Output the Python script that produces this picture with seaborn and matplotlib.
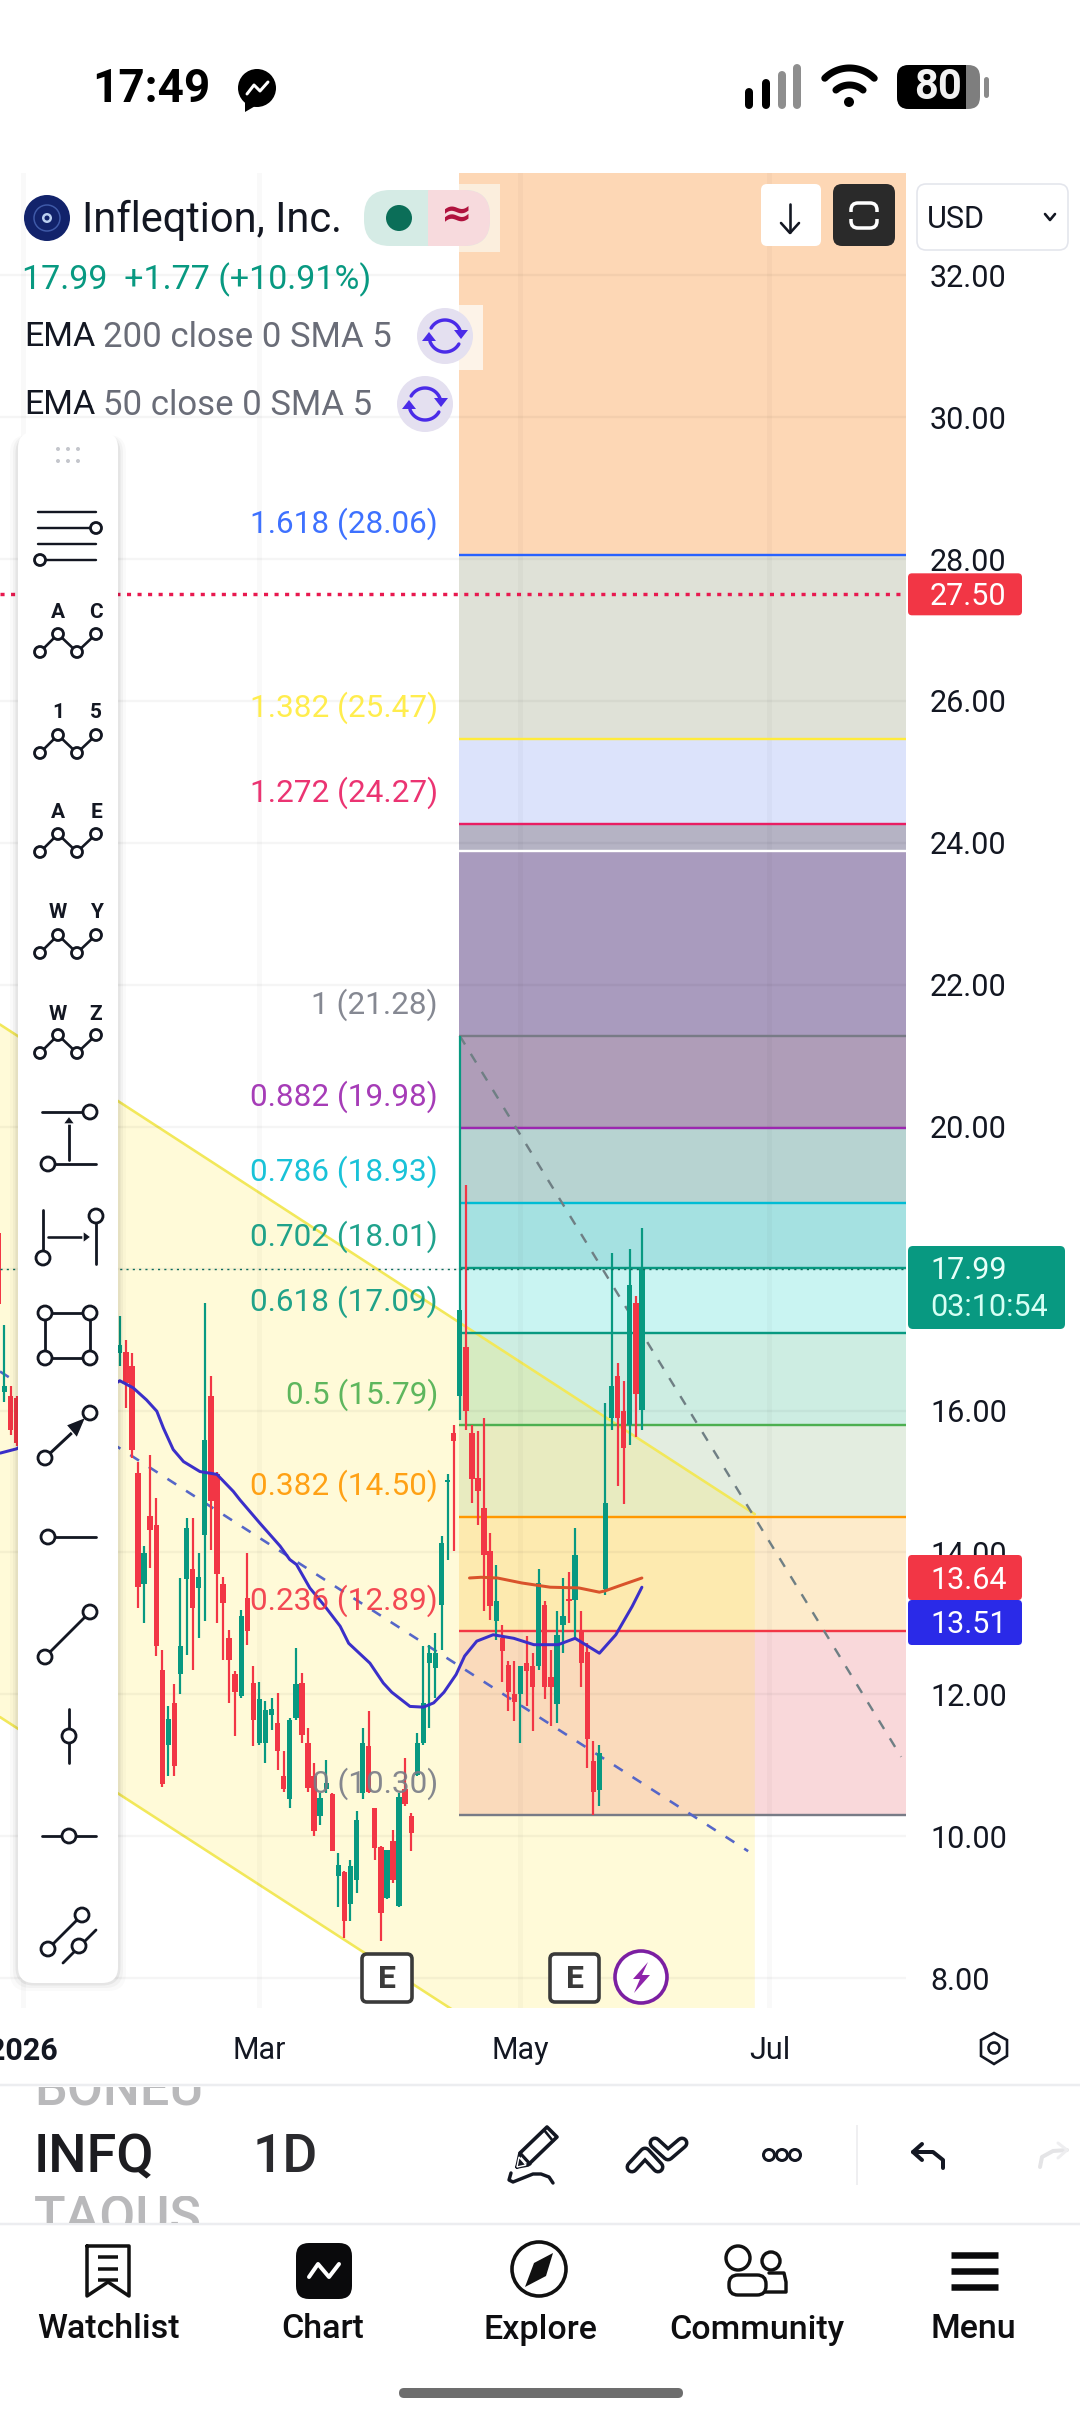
import matplotlib
matplotlib.use("Agg")
import matplotlib.pyplot as plt
from matplotlib.patches import Circle, FancyBboxPatch, Polygon, Rectangle
import numpy as np
import pandas as pd
import seaborn as sns

# ---- price data (daily candles, INFQ) ----
candle_day = [-23, -22, -21, -20, -3, -2, -1] + list(range(84))
candle_open = [18.5, 16.26, 16.2, 16.18, 16.81, 16.83, 16.63,
    15.12, 13.55, 14.51, 14.38, 12.35, 11.29, 11.88, 12.28, 13.62, 13.76, 13.50, 14.25,
    16.20, 15.10, 13.55, 12.79, 12.28, 11.97, 13.36, 12.16, 11.32, 11.32, 11.71, 11.59,
    10.85, 10.52, 11.67, 12.16, 11.32, 10.85, 10.28, 10.66, 10.59, 9.44, 9.49, 9.04,
    9.39, 10.61, 11.27, 10.40, 9.85, 9.13, 9.93, 9.02, 10.66, 10.28, 10.87, 11.32,
    12.44, 12.37, 13.26, 14.99, 15.69, 16.20, 16.90, 15.69, 15.05, 14.63, 14.02, 13.04,
    12.79, 12.42, 12.00, 12.00, 12.44, 12.40, 12.40, 13.26, 12.25, 11.86, 12.98, 13.33,
    13.33, 12.89, 12.60, 11.06, 10.65, 13.48, 15.90, 16.48, 15.99, 15.80, 17.52, 16.01]
candle_high = [18.6, 17.21, 16.34, 16.2, 17.33, 17.0, 16.81,
    15.28, 14.09, 15.38, 14.77, 12.63, 11.83, 12.14, 13.64, 14.49, 14.49, 13.99, 17.52,
    16.48, 15.14, 13.66, 12.91, 12.33, 13.19, 13.99, 12.40, 12.18, 11.90, 11.95, 12.02,
    11.20, 11.67, 12.65, 12.30, 11.53, 11.03, 10.61, 11.08, 10.61, 9.77, 9.51, 9.67,
    10.35, 11.53, 11.76, 10.40, 9.86, 9.81, 10.09, 10.61, 11.10, 10.33, 11.46, 12.68,
    12.70, 12.87, 14.23, 15.10, 15.80, 21.28, 19.18, 15.80, 15.71, 15.90, 14.27, 13.83,
    12.98, 12.47, 12.47, 12.40, 12.82, 12.58, 13.76, 13.31, 12.63, 13.17, 13.64, 13.73,
    14.34, 13.17, 12.72, 11.34, 11.29, 16.10, 18.22, 16.67, 16.41, 18.27, 17.61, 18.57]
candle_low = [17.4, 16.12, 15.65, 15.5, 16.63, 16.04, 15.33,
    13.22, 13.00, 13.78, 12.54, 10.70, 10.85, 10.85, 12.00, 12.56, 12.35, 12.79, 13.03,
    14.04, 13.00, 12.49, 11.88, 11.41, 11.95, 12.70, 11.27, 11.29, 11.03, 11.50, 10.94,
    10.63, 10.40, 11.64, 11.32, 10.63, 10.00, 10.16, 10.61, 9.79, 9.01, 8.57, 8.80,
    9.20, 10.52, 10.61, 9.67, 8.52, 9.11, 9.34, 9.01, 10.43, 9.79, 10.85, 11.29,
    11.53, 11.95, 12.63, 13.90, 14.02, 15.87, 15.73, 14.70, 14.39, 13.17, 13.05, 12.77,
    12.18, 11.76, 11.62, 11.32, 11.83, 11.48, 12.35, 11.93, 11.55, 11.60, 12.58, 13.00,
    12.77, 12.11, 10.96, 10.30, 10.42, 13.40, 15.73, 14.93, 14.68, 15.52, 15.62, 15.73]
candle_close = [17.5, 16.35, 15.73, 15.54, 16.93, 16.39, 15.45,
    13.51, 13.99, 14.32, 12.68, 10.73, 11.65, 10.99, 12.68, 14.34, 13.22, 13.66, 15.59,
    14.72, 13.69, 13.29, 12.49, 12.03, 13.10, 12.89, 11.64, 11.93, 11.78, 11.79, 11.20,
    10.67, 11.64, 12.14, 11.43, 10.68, 10.07, 10.54, 10.75, 9.79, 9.60, 8.80, 9.58,
    10.23, 11.32, 10.63, 9.84, 8.92, 9.81, 9.39, 10.56, 10.45, 10.04, 11.32, 11.88,
    12.58, 12.58, 14.13, 15.02, 15.57, 17.42, 15.99, 15.03, 14.86, 13.97, 13.24, 13.31,
    12.61, 12.04, 11.89, 12.40, 12.33, 12.11, 13.57, 12.11, 12.11, 12.84, 13.10, 13.31,
    13.97, 12.44, 11.37, 10.63, 11.17, 14.70, 16.34, 15.90, 15.47, 17.77, 16.23, 17.99]

# moving averages
ema50_day = [-22.7, -20, -3, -0.8, 1.4, 3.1, 4.2, 5.8, 7.5, 10.2, 13, 15.7, 16.8, 20.1, 23.4, 25, 26.1,
             28.3, 30.8, 33.3, 34.7, 38.2, 40.4, 41.8, 44.8, 47, 48.7, 50.4, 52.4, 53.8, 55.8, 58.5,
             61.9, 65.2, 69.2, 72, 76, 78.7, 81.4, 83]
ema50_val = [15.40, 15.46, 16.42, 16.32, 16.15, 15.99, 15.75, 15.45, 15.28, 15.14, 15.10, 14.86, 14.74,
             14.41, 14.09, 13.90, 13.83, 13.50, 13.24, 12.96, 12.72, 12.44, 12.16, 12.03, 11.83, 11.82,
             11.88, 12.03, 12.28, 12.54, 12.75, 12.84, 12.79, 12.70, 12.70, 12.79, 12.58, 12.84, 13.24, 13.51]
ema200_day = [54.6, 56.5, 59.2, 63.2, 67.9, 72.6, 76, 77, 79.3, 83]
ema200_val = [13.64, 13.65, 13.64, 13.57, 13.51, 13.50, 13.44, 13.46, 13.53, 13.64]

# Fibonacci retracement
fib_ratio = ["0", "0.236", "0.382", "0.5", "0.618", "0.702", "0.786", "0.882", "1", "1.272", "1.382", "1.618"]
fib_price = [10.30, 12.89, 14.50, 15.79, 17.09, 18.01, 18.93, 19.98, 21.28, 24.27, 25.47, 28.06]
fib_line = ["#787B86", "#F23645", "#FF9800", "#4CAF50", "#089981", "#089981", "#00BCD4", "#9C27B0",
            "#787B86", "#E91E63", "#FFEB3B", "#2962FF"]
band_edges = [10.30, 12.89, 14.50, 15.79, 17.09, 18.01, 18.93, 19.98, 21.28, 23.88, 24.27, 25.47, 28.06, 34.0]
band_fill = ["#F9D8DA", "#FDEBCB", "#E3EDE0", "#CDEDE2", "#C9F4F2", "#A5E1E1", "#B7D3D1", "#AF9DB8",
             "#A99BBE", "#B5B3C4", "#DCE3FB", "#DFE1D7", "#FDD7B5"]

# drawings and alerts
channel_day = [-22.73, 101.6, 101.6, -22.73]
channel_price = [21.44, 14.54, 4.80, 11.68]
mid_dash_day = [-22.73, 100.5]
mid_dash_price = [16.55, 9.79]
fib_trend_day = [53, 125.7]
fib_trend_price = [21.28, 11.12]
alert_price = 27.50
last_price = 17.99

price_ticks = [8, 10, 12, 14, 16, 18, 20, 22, 24, 26, 28, 30, 32]
shown_ticks = [8, 10, 12, 14, 16, 20, 22, 24, 26, 28, 30, 32]
time_ticks = [-19, 20, 63, 104]
time_labels = ["2026", "Mar", "May", "Jul"]

RED, GREEN = "#F23645", "#089981"
W, H = 1080, 2424
PX = 0.72  # points per pixel at dpi 100

sns.set_theme(style="white")
plt.rcParams["font.family"] = ["Roboto", "DejaVu Sans"]

fig = plt.figure(figsize=(W / 100, H / 100), dpi=100, facecolor="white")

# ---- price pane ----
ax = fig.add_axes([0, (H - 2008) / H, 906 / W, (2008 - 173) / H])
ax.set_facecolor("white")
ax.set_xlim(-22.73, 126.5)
ax.set_ylim(7.58, 33.44)
for s in ax.spines.values():
    s.set_visible(False)

band_x = [52.9, 126.5]
for lo, hi, c in zip(band_edges[:-1], band_edges[1:], band_fill):
    ax.fill_between(band_x, lo, hi, color=c, lw=0, zorder=1)

ax.fill(channel_day, channel_price, color="#FFE640", alpha=0.2, lw=0, zorder=2)
ax.plot(channel_day[:2], channel_price[:2], color="#F2E85A", lw=2.6 * PX, zorder=3)
ax.plot(channel_day[2:], channel_price[2:], color="#F2E85A", lw=2.6 * PX, zorder=3)

for p in price_ticks:
    ax.axhline(p, color="black", alpha=0.04, lw=2.4 * PX, zorder=3)
for t in time_ticks:
    ax.axvline(t, color="black", alpha=0.022, lw=5 * PX, zorder=3)

for p, c in zip(fib_price, fib_line):
    ax.plot(band_x, [p, p], color=c, lw=2.4 * PX, zorder=4, solid_capstyle="butt")
ax.plot(band_x, [23.88, 23.88], color="white", lw=2.4 * PX, zorder=4)

sns.lineplot(x=mid_dash_day, y=mid_dash_price, ax=ax, color="#5566C8", lw=2.6 * PX,
             linestyle=(0, (4, 4.5)), zorder=5, errorbar=None)
sns.lineplot(x=fib_trend_day, y=fib_trend_price, ax=ax, color="#6F7F84", lw=2.4 * PX,
             linestyle=(0, (4.2, 4.6)), zorder=5, errorbar=None)

candles = pd.DataFrame({"day": candle_day, "open": candle_open, "high": candle_high,
                        "low": candle_low, "close": candle_close})
candles["color"] = np.where(candles["close"] >= candles["open"], GREEN, RED)
ax.vlines(candles["day"], candles["low"], candles["high"], colors=candles["color"], lw=2.2 * PX, zorder=6)
ax.bar(candles["day"], (candles["close"] - candles["open"]).abs().clip(lower=0.03),
       bottom=candles[["open", "close"]].min(axis=1), width=0.88, color=candles["color"], lw=0, zorder=6)

sns.lineplot(x="d", y="v", data=pd.DataFrame({"d": ema200_day, "v": ema200_val}), ax=ax,
             color="#D9532B", lw=3 * PX, zorder=7, sort=False, errorbar=None)
sns.lineplot(x="d", y="v", data=pd.DataFrame({"d": ema50_day, "v": ema50_val}), ax=ax,
             color="#3B2FC9", lw=3 * PX, zorder=7, sort=False, errorbar=None)

ax.axhline(alert_price, color="#E8194F", lw=3.4 * PX, linestyle=(0, (1.2, 1.9)), zorder=7)
ax.axhline(last_price, color="#0B6B5C", lw=1.4 * PX, linestyle=(0, (1.5, 3)), zorder=7)

for r, p, c in zip(fib_ratio, fib_price, fib_line):
    ax.annotate(f"{r} ({p:.2f})", xy=(49.4, p), xytext=(0, 31 * PX), textcoords="offset points",
                ha="right", va="center", fontsize=22.7, color=c, alpha=0.9, zorder=8)

ax.set_xlabel("")
ax.set_ylabel("")
ax.yaxis.tick_right()
ax.set_yticks(shown_ticks)
ax.set_yticklabels([f"{t:.2f}" for t in shown_ticks], fontsize=22, color="#131722")
ax.tick_params(axis="y", length=0, pad=24 * PX)
ax.set_xticks(time_ticks)
ax.set_xticklabels(time_labels, fontsize=22, color="#131722")
ax.tick_params(axis="x", length=0, pad=28 * PX)
ax.get_xticklabels()[0].set_fontweight("bold")
for lbl in ax.get_xticklabels() + ax.get_yticklabels():
    lbl.set_clip_on(False)

# ---- app chrome, drawn in pixel coordinates ----
ui = fig.add_axes([0, 0, 1, 1], zorder=5)
ui.set_xlim(0, W)
ui.set_ylim(H, 0)
ui.axis("off")
ui.patch.set_alpha(0)


def circ(x, y, r, fc="white", ec="none", lw=0, z=10):
    ui.add_patch(Circle((x, y), r, fc=fc, ec=ec, lw=lw * PX, zorder=z))


def seg(xs, ys, c="#131722", lw=2.6, z=10, cap="round"):
    ui.plot(xs, ys, color=c, lw=lw * PX, zorder=z, solid_capstyle=cap, solid_joinstyle="round")


def box(x0, y0, x1, y1, fc, ec="none", lw=0, rad=6, z=10, alpha=1):
    ui.add_patch(FancyBboxPatch((x0 + rad, y0 + rad), x1 - x0 - 2 * rad, y1 - y0 - 2 * rad,
                                boxstyle=f"round,pad={rad},rounding_size={rad}",
                                fc=fc, ec=ec, lw=lw * PX, zorder=z, alpha=alpha))


def txt(x, y, s, size, c="#131722", ha="left", weight="normal", z=11, **kw):
    return ui.text(x, y + 2.5, s, fontsize=size, color=c, ha=ha, va="center", fontweight=weight, zorder=z, **kw)


def arc(cx, cy, r, a0, a1, c, lw, z=10, cap="round"):
    t = np.radians(np.linspace(a0, a1, 40))
    seg(cx + r * np.cos(t), cy - r * np.sin(t), c, lw, z, cap)


def handle(x, y, r=7):
    circ(x, y, r, fc="white", ec="#131722", lw=2.8, z=13)


# value tags on the price scale
def price_y(p):
    return 275 + (32 - p) * 70.96


box(908, price_y(27.50) - 21, 1022, price_y(27.50) + 21, RED, rad=4)
txt(930, price_y(27.50), "27.50", 22, "white")
box(908, 1246, 1065, 1329, GREEN, rad=5)
txt(930, 1268, "17.99", 22, "#E8FFF8")
txt(930, 1305, "03:10:54", 22, "#D6FFF4")
box(908, 1555, 1022, 1600, RED, rad=4)
txt(930, 1578, "13.64", 22, "white")
box(908, 1600, 1022, 1645, "#2A2AE8", rad=4, z=10.5)
txt(930, 1622, "13.51", 22, "white")

# status bar
txt(92, 86, "17:49", 33, "black", weight="bold")
circ(257, 88, 19, "black")
ui.add_patch(Polygon([[245, 100], [245, 112], [257, 105]], fc="black", ec="none", zorder=10))
seg([247, 254, 260, 268], [94, 85, 91, 82], "white", 3)
for x, top, c in zip([749, 766, 782, 797], [92, 83, 75, 68], ["black", "black", "#8E8E8E", "#8E8E8E"]):
    seg([x, x], [top, 105], c, 8)
circ(849, 102, 5, "black")
arc(849.5, 105.7, 20.7, 49, 131, "black", 7)
arc(849.5, 103, 35, 45, 135, "black", 7)
box(897, 65, 980, 109, "#7E7E7E", rad=12)
box(897, 65, 966, 109, "black", rad=12, z=10.2)
ui.add_patch(Rectangle((950, 65), 16, 44, fc="black", ec="none", zorder=10.3))
txt(938, 85, "80", 30, "#F2F2F2", ha="center", weight="bold")
seg([986, 986], [79, 95], "#8A8A8A", 5)

# symbol legend
ui.add_patch(Rectangle((459, 184), 41, 68, fc="#FBEEDD", ec="none", zorder=9))
ui.add_patch(Rectangle((459, 305), 24, 65, fc="#FDF3E8", ec="none", zorder=9))
circ(47, 218, 23, "#12236B")
circ(47, 218, 13, "none", ec="#3F5AA8", lw=1.5)
circ(47, 218, 5, "#BBD0F0")
circ(47, 218, 2.5, "#12236B", z=11)
txt(82, 218, "Infleqtion, Inc.", 30)
box(364, 190, 490, 246, "#D5EBE5", rad=26)
ui.add_patch(FancyBboxPatch((428, 190), 36, 56, boxstyle="round,pad=0,rounding_size=1", fc="#F7DADD", ec="none", zorder=10.1))
box(436, 190, 490, 246, "#F7DADD", rad=26, z=10.1)
circ(399, 218, 13, "#0B6E58", z=11)
txt(457, 214, "\u2248", 27, "#B0123E", ha="center", weight="bold", family="DejaVu Sans")
txt(22, 277, "17.99  +1.77 (+10.91%)", 24.5, "#089981")
for y, name, icon_x in [(335, "200 close 0 SMA 5", 445), (403, "50 close 0 SMA 5", 425)]:
    txt(24, y, "EMA", 24.5, "#131722")
    txt(103, y, name, 25, "#6A6D78")
    circ(icon_x, y + 1, 28, "#E4E0F0")
    arc(icon_x, y + 1, 16, 20, 150, "#4A2BE8", 3.4, z=11)
    arc(icon_x, y + 1, 16, 200, 330, "#4A2BE8", 3.4, z=11)
    ui.add_patch(Polygon([[icon_x + 9, y - 5], [icon_x + 23, y - 5], [icon_x + 16, y + 4]], fc="#4A2BE8", ec="none", zorder=11))
    ui.add_patch(Polygon([[icon_x - 23, y + 6], [icon_x - 9, y + 6], [icon_x - 16, y - 3]], fc="#4A2BE8", ec="none", zorder=11))

# chart buttons
box(761, 184, 821, 246, "white", rad=6)
seg([790, 790], [204, 232], "#131722", 2.6)
seg([781, 790, 799], [223, 233, 223], "#131722", 2.6)
box(833, 184, 895, 246, "#2A2A2A", rad=9)
box(851, 203, 877, 228, "none", ec="white", lw=3.5, rad=7, z=11)
ui.add_patch(Rectangle((846, 212), 36, 7, fc="#2A2A2A", ec="none", zorder=11.5))
box(917, 184, 1068, 250, "white", ec="#E3E5EC", lw=1.6, rad=9)
txt(927, 217, "USD", 22, "#131722")
seg([1045, 1050, 1055], [214, 220, 214], "#131722", 2.6)

# drawing toolbar
for grow, a in [(8, 0.02), (5, 0.03), (2.5, 0.05)]:
    box(18 - grow, 435, 118 + grow, 1983 + grow, "black", rad=18, z=11.5, alpha=a)
box(18, 432, 118, 1983, "white", rad=16, z=12)
for x in [58, 68, 78]:
    for y in [449, 461]:
        circ(x, y, 2, "#C4C6CC", z=13)
z_line = 13
for y in [512, 528, 544, 560]:
    seg([38, 96], [y, y], lw=2.4, z=z_line)
handle(96, 528, 5.5)
handle(40, 560, 5.5)
for y_lo, y_hi, left, right, y_lab in [(652, 634, "A", "C", 610), (753, 735, "1", "5", 710),
                                       (852, 834, "A", "E", 810), (953, 935, "W", "Y", 910),
                                       (1053, 1035, "W", "Z", 1012)]:
    seg([40, 58, 77, 96], [y_lo, y_hi, y_lo, y_hi], lw=2.6, z=z_line)
    for x, y in zip([40, 58, 77, 96], [y_lo, y_hi, y_lo, y_hi]):
        handle(x, y, 5.5)
    txt(58, y_lab, left, 15, "#131722", ha="center", weight="bold", z=13)
    txt(96, y_lab, right, 15, "#131722", ha="center", weight="bold", z=13)
seg([42, 96], [1112, 1112], lw=2.8, z=z_line)
seg([42, 96], [1164, 1164], lw=2.8, z=z_line)
handle(90, 1112)
handle(48, 1164)
seg([69, 69], [1160, 1122], lw=2.8, z=z_line)
ui.add_patch(Polygon([[63, 1124], [75, 1124], [69, 1116]], fc="#131722", zorder=13))
seg([43, 43], [1210, 1257], lw=2.8, z=z_line)
seg([96, 96], [1217, 1264], lw=2.8, z=z_line)
seg([48, 86], [1237, 1237], lw=2.6, z=z_line)
ui.add_patch(Polygon([[83, 1231], [83, 1243], [91, 1237]], fc="#131722", zorder=13))
handle(43, 1258)
handle(96, 1216)
seg([45, 90, 90, 45, 45], [1313, 1313, 1358, 1358, 1313], lw=2.8, z=z_line)
for x, y in [(45, 1313), (90, 1313), (45, 1358), (90, 1358)]:
    handle(x, y)
seg([45, 75], [1458, 1430], lw=3, z=z_line)
ui.add_patch(Polygon([[66, 1425], [86, 1417], [77, 1438]], fc="#131722", zorder=13))
handle(45, 1458)
handle(90, 1413)
seg([48, 96], [1537, 1537], lw=2.8, z=z_line)
handle(48, 1537)
seg([45, 90], [1657, 1612], lw=2.8, z=z_line)
handle(45, 1657)
handle(90, 1612)
seg([69, 69], [1709, 1763], lw=2.8, z=z_line)
handle(69, 1736)
seg([42, 96], [1836, 1836], lw=2.8, z=z_line)
handle(69, 1836)
seg([48, 82], [1949, 1915], lw=2.8, z=z_line)
seg([63, 96], [1963, 1930], lw=2.8, z=z_line)
handle(48, 1949)
handle(82, 1915)
handle(79, 1946)

# earnings and dividend markers
for x0, x1 in [(362, 412), (550, 599)]:
    box(x0, 1954, x1, 2002, "white", ec="#3A3A3A", lw=3.6, rad=5)
    txt((x0 + x1) / 2, 1976, "E", 23, "#3A3A3A", ha="center", weight="bold")
circ(641, 1977, 26, "white", ec="#7B1FA2", lw=3.6)
ui.add_patch(Polygon([[648, 1962], [633, 1979], [640, 1979], [634, 1993], [650, 1975], [642, 1975]],
                     fc="#8E24AA", ec="none", zorder=11))

# settings hexagon beside the time scale
ui.add_patch(Polygon([[994, 2033], [1007, 2040], [1007, 2056], [994, 2064], [981, 2056], [981, 2040]],
                     fc="white", ec="#131722", lw=2.6 * PX, zorder=10))
circ(994, 2048, 5.5, "white", ec="#131722", lw=2.6)

# symbol strip
seg([0, W], [2085, 2085], "#ECEDF0", 2.5, cap="butt")
seg([0, W], [2224, 2224], "#ECEDF0", 2.5, cap="butt")
t1 = txt(34, 2089, "BONEU", 37.5, "#B9B9BB", weight="medium")
t1.set_clip_on(True)
t1.set_clip_path(Rectangle((0, 2087), 300, 24, transform=ui.transData))
t2 = txt(34, 2216, "TAQUS", 37.5, "#B9B9BB", weight="medium")
t2.set_clip_on(True)
t2.set_clip_path(Rectangle((0, 2196), 300, 27, transform=ui.transData))
txt(34, 2155, "INFQ", 39, "#1C1C20", weight="medium")
txt(253, 2155, "1D", 38.5, "#2A2A2E", weight="medium")

# pencil with scribble
seg([517, 520, 547, 557, 528, 517], [2167, 2153, 2127, 2137, 2165, 2167], lw=3.6)
seg([520, 530], [2153, 2164], lw=3.2)
seg([544, 553], [2130, 2141], lw=2.6)
ui.add_patch(Polygon([[517, 2167], [519, 2157], [526, 2165]], fc="#131722", zorder=10))
seg([511, 509, 513, 523, 533, 541, 549, 553], [2173, 2180, 2182, 2178, 2174, 2174, 2177, 2183], lw=3.4)

# double chevron
for xs, ys in [([632, 645, 658], [2167, 2153, 2167]), ([655, 668, 682], [2143, 2155, 2143])]:
    seg(xs, ys, "#131722", 13)
    seg(xs, ys, "white", 6, z=10.5)

for x in [769, 782, 795]:
    circ(x, 2155, 5.5, "white", ec="#131722", lw=3)
seg([857, 857], [2125, 2185], "#EFEFF1", 2, cap="butt")

# undo and redo
seg([913, 933, 943, 943], [2152, 2152, 2160, 2168], "#131722", 4)
seg([922, 913, 922], [2144, 2152, 2160], "#131722", 4)
seg([1040, 1042, 1053, 1067], [2167, 2157, 2151, 2150], "#E4E4E6", 4)
seg([1058, 1067, 1058], [2143, 2150, 2158], "#EEEEF0", 3)

# bottom navigation
names = ["Watchlist", "Chart", "Explore", "Community", "Menu"]
centres = [108, 323, 540, 757, 973]
for s, c in zip(names, centres):
    txt(c, 2327, s, 24.5, "#0E0E10", ha="center", weight="medium")
seg([87, 129, 129, 108, 87, 87], [2246, 2246, 2296, 2282, 2296, 2246], "#111", 3.5)
for y in [2257, 2269, 2280]:
    seg([98, 118], [y, y], "#111", 3.5, cap="butt")
box(296, 2243, 352, 2299, "#0A0A0C", rad=13)
seg([309, 318, 329, 339], [2277, 2264, 2277, 2264], "white", 4, z=11)
circ(539, 2269, 27, "white", ec="#111", lw=3.6)
ui.add_patch(Polygon([[553, 2253], [546, 2276], [525, 2287], [534, 2263]], fc="#111", ec="none", zorder=11))
circ(738, 2258, 12, "white", ec="#111", lw=3.4)
circ(771, 2261, 9, "white", ec="#111", lw=3.4)
ui.plot([769, 784, 786, 786, 760], [2273, 2273, 2282, 2292, 2292], color="#111", lw=3.4 * PX, zorder=10)
box(729, 2275, 766, 2295, "white", ec="#111", lw=3.4, rad=9, z=10.5)
for y in [2255, 2271, 2287]:
    seg([951, 998], [y, y], "#0A0A0C", 6.5, cap="butt")

# home indicator
box(399, 2388, 683, 2398, "#6D6D6D", rad=5)

fig.savefig("out.png", dpi=100, facecolor="white")
